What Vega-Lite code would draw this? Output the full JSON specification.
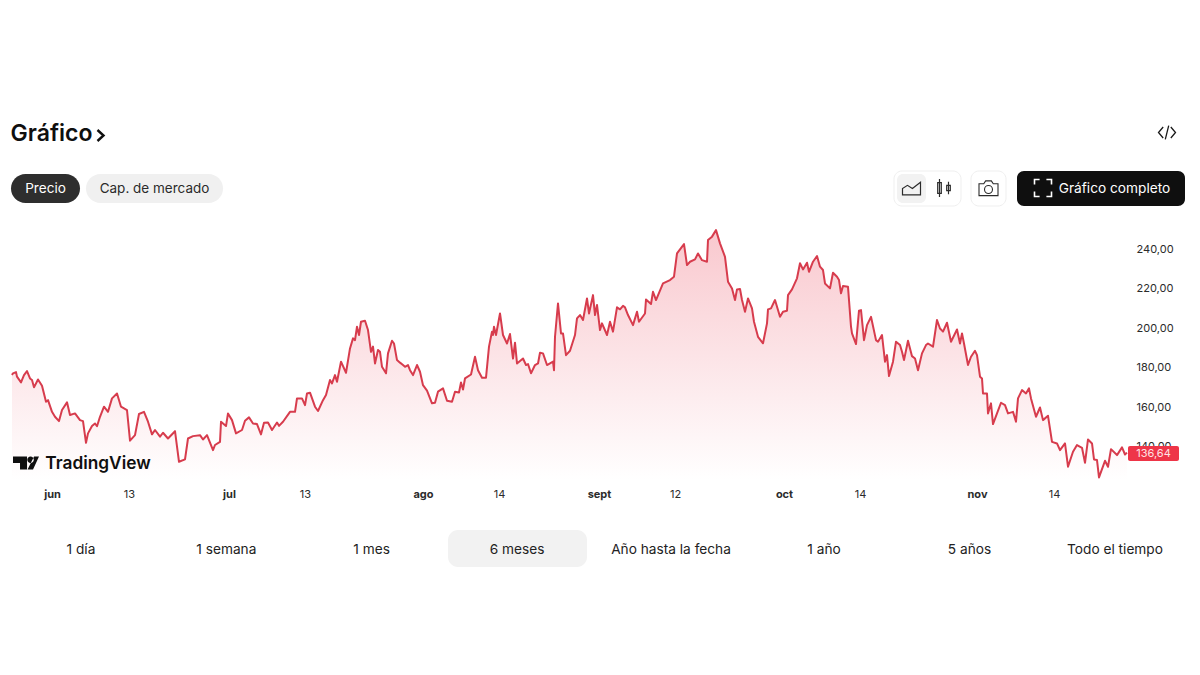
{"$schema":"https://vega.github.io/schema/vega-lite/v6.json","width":1200,"height":675,"autosize":{"type":"fit","contains":"padding"},"padding":0,"background":"#ffffff","config":{"font":"Inter","view":{"stroke":null},"text":{"font":"Inter"}},
"datasets":{"precio":[
{"bar":1,"price":175.9},{"bar":2,"price":176.8},{"bar":5,"price":177.4},{"bar":6,"price":175.1},{"bar":10,"price":172.2},{"bar":13,"price":175.9},{"bar":16,"price":177.9},{"bar":19,"price":174.2},{"bar":21,"price":173.4},{"bar":23,"price":169.7},{"bar":27,"price":173.7},{"bar":31,"price":170.5},{"bar":35,"price":162.4},{"bar":37,"price":163.2},{"bar":41,"price":157.3},{"bar":44,"price":154.8},{"bar":48,"price":152.6},{"bar":51,"price":158.2},{"bar":56,"price":162.1},{"bar":59,"price":155.7},{"bar":64,"price":156.5},{"bar":69,"price":153.1},{"bar":72,"price":152.6},{"bar":75,"price":141.6},{"bar":77,"price":146.4},{"bar":81,"price":150.1},{"bar":84,"price":151.4},{"bar":86,"price":150},{"bar":89,"price":154.8},{"bar":93,"price":159.9},{"bar":97,"price":157.3},{"bar":101,"price":164.1},{"bar":106,"price":166.6},{"bar":110,"price":159.9},{"bar":116,"price":158.2},{"bar":119,"price":142.7},{"bar":124,"price":145.5},{"bar":128,"price":156.2},{"bar":133,"price":157.3},{"bar":137,"price":152.3},{"bar":141,"price":145.9},{"bar":144,"price":148.1},{"bar":149,"price":144.7},{"bar":152,"price":146.7},{"bar":157,"price":143.8},{"bar":164,"price":147.5},{"bar":168,"price":132},{"bar":174,"price":133.2},{"bar":177,"price":143.8},{"bar":182,"price":145},{"bar":189,"price":145.5},{"bar":192,"price":143.3},{"bar":196,"price":145.5},{"bar":202,"price":137.9},{"bar":204,"price":140.5},{"bar":209,"price":142.1},{"bar":210,"price":152.3},{"bar":215,"price":150.1},{"bar":217,"price":156.5},{"bar":221,"price":153.1},{"bar":225,"price":146.4},{"bar":231,"price":148.1},{"bar":234,"price":152.8},{"bar":238,"price":154.5},{"bar":242,"price":151.4},{"bar":246,"price":151.1},{"bar":250,"price":145.9},{"bar":253,"price":151.8},{"bar":257,"price":151.9},{"bar":261,"price":148.1},{"bar":266,"price":151.9},{"bar":268,"price":150.2},{"bar":272,"price":152.3},{"bar":279,"price":157.3},{"bar":284,"price":157.3},{"bar":286,"price":164.1},{"bar":291,"price":164.1},{"bar":294,"price":160.7},{"bar":296,"price":166.6},{"bar":299,"price":167},{"bar":304,"price":159.9},{"bar":307,"price":157.7},{"bar":312,"price":163.2},{"bar":315,"price":165.8},{"bar":319,"price":173.4},{"bar":321,"price":171.7},{"bar":324,"price":175.9},{"bar":326,"price":172.5},{"bar":330,"price":182.7},{"bar":335,"price":177.1},{"bar":339,"price":189.4},{"bar":342,"price":194.5},{"bar":344,"price":193.6},{"bar":346,"price":200.4},{"bar":348,"price":196.2},{"bar":350,"price":202.9},{"bar":354,"price":203.4},{"bar":357,"price":198.7},{"bar":360,"price":187.7},{"bar":362,"price":190.3},{"bar":364,"price":181.8},{"bar":367,"price":188.6},{"bar":369,"price":187.7},{"bar":371,"price":180.1},{"bar":375,"price":176.8},{"bar":377,"price":186.9},{"bar":381,"price":193.3},{"bar":383,"price":191.9},{"bar":386,"price":183.5},{"bar":389,"price":182.2},
{"bar":392,"price":181},{"bar":394,"price":180.1},{"bar":397,"price":181},{"bar":399,"price":178.4},{"bar":402,"price":175.9},{"bar":406,"price":181},{"bar":409,"price":177.6},{"bar":412,"price":170.8},{"bar":416,"price":168},{"bar":421,"price":161.6},{"bar":424,"price":161.9},{"bar":427,"price":167.5},{"bar":432,"price":169.2},{"bar":436,"price":162.9},{"bar":441,"price":162.4},{"bar":444,"price":167.5},{"bar":448,"price":167.1},{"bar":450,"price":172.2},{"bar":452,"price":168.6},{"bar":454,"price":174.2},{"bar":460,"price":176.2},{"bar":464,"price":185.2},{"bar":467,"price":178.4},{"bar":471,"price":174.6},{"bar":475,"price":174.6},{"bar":478,"price":190.3},{"bar":481,"price":197.9},{"bar":482,"price":196.2},{"bar":483,"price":200.4},{"bar":485,"price":196.2},{"bar":489,"price":207.1},{"bar":492,"price":196.2},{"bar":496,"price":191.9},{"bar":499,"price":196.7},{"bar":502,"price":184.3},{"bar":504,"price":192.3},{"bar":506,"price":181.8},{"bar":512,"price":184.3},{"bar":515,"price":181},{"bar":517,"price":181.5},{"bar":520,"price":176.8},{"bar":524,"price":181},{"bar":527,"price":181.8},{"bar":529,"price":187.2},{"bar":532,"price":186.9},{"bar":536,"price":181},{"bar":542,"price":182.7},{"bar":543,"price":178.4},{"bar":544,"price":195.3},{"bar":547,"price":212.2},{"bar":550,"price":197},{"bar":552,"price":197},{"bar":555,"price":186},{"bar":559,"price":188.2},{"bar":564,"price":196.2},{"bar":566,"price":204.6},{"bar":569,"price":206.3},{"bar":572,"price":203.8},{"bar":576,"price":214.7},{"bar":578,"price":207.1},{"bar":582,"price":216.4},{"bar":584,"price":206.3},{"bar":586,"price":211.4},{"bar":589,"price":198.7},{"bar":591,"price":202.1},{"bar":596,"price":196.2},{"bar":599,"price":202.9},{"bar":602,"price":197.9},{"bar":606,"price":210.2},{"bar":609,"price":209.2},{"bar":612,"price":211},{"bar":614,"price":210.2},{"bar":617,"price":206.3},{"bar":622,"price":201.2},{"bar":626,"price":208},{"bar":628,"price":202.9},{"bar":634,"price":207.1},{"bar":635,"price":214.2},{"bar":640,"price":211.9},{"bar":642,"price":218.1},{"bar":645,"price":213.9},{"bar":652,"price":222.3},{"bar":659,"price":224},{"bar":663,"price":225.7},{"bar":666,"price":237.5},{"bar":673,"price":242.2},{"bar":676,"price":231.6},{"bar":679,"price":233.3},{"bar":684,"price":234.5},{"bar":687,"price":237.5},{"bar":691,"price":234.1},{"bar":696,"price":233.3},{"bar":697,"price":244.3},{"bar":701,"price":246},{"bar":705,"price":249.3},{"bar":709,"price":242.6},{"bar":714,"price":235.8},{"bar":717,"price":223.2},{"bar":721,"price":219.8},{"bar":724,"price":213.9},{"bar":726,"price":219.3},{"bar":729,"price":219.5},{"bar":731,"price":213.9},{"bar":734,"price":208},{"bar":737,"price":214.7},{"bar":741,"price":209.7},{"bar":743,"price":202.9},{"bar":747,"price":195.3},{"bar":752,"price":192},{"bar":756,"price":202.1},{"bar":757,"price":209.2},{"bar":760,"price":209.7},{"bar":764,"price":213.9},{"bar":769,"price":205.4},{"bar":772,"price":208},{"bar":776,"price":208.5},{"bar":777,"price":216.4},{"bar":781,"price":219.3},{"bar":786,"price":224.9},{"bar":789,"price":232.5},
{"bar":792,"price":229.4},{"bar":796,"price":232.8},{"bar":798,"price":228.2},{"bar":802,"price":233.3},{"bar":806,"price":236.2},{"bar":809,"price":230.8},{"bar":812,"price":229.1},{"bar":814,"price":222.3},{"bar":819,"price":219.8},{"bar":822,"price":227.7},{"bar":826,"price":225.7},{"bar":828,"price":224},{"bar":830,"price":217.3},{"bar":832,"price":221},{"bar":837,"price":220.6},{"bar":840,"price":200.4},{"bar":841,"price":197},{"bar":845,"price":191.6},{"bar":848,"price":208.5},{"bar":850,"price":208.8},{"bar":853,"price":193.6},{"bar":856,"price":201.2},{"bar":860,"price":205.4},{"bar":865,"price":193.6},{"bar":867,"price":192.8},{"bar":871,"price":196.2},{"bar":874,"price":182.7},{"bar":876,"price":186},{"bar":878,"price":175.4},{"bar":882,"price":182.7},{"bar":885,"price":192.8},{"bar":889,"price":191.1},{"bar":891,"price":187.7},{"bar":893,"price":183.5},{"bar":897,"price":193.3},{"bar":901,"price":185.5},{"bar":904,"price":184.3},{"bar":907,"price":178.4},{"bar":911,"price":186.9},{"bar":915,"price":191.1},{"bar":917,"price":191.9},{"bar":922,"price":190.3},{"bar":926,"price":203.8},{"bar":929,"price":199.5},{"bar":932,"price":197.9},{"bar":936,"price":202.4},{"bar":940,"price":192.8},{"bar":946,"price":199},{"bar":949,"price":191.9},{"bar":951,"price":197},{"bar":953,"price":191.9},{"bar":957,"price":181},{"bar":960,"price":185.2},{"bar":964,"price":188.2},{"bar":966,"price":186},{"bar":969,"price":175.1},{"bar":971,"price":174.2},{"bar":972,"price":166.6},{"bar":976,"price":166.6},{"bar":977,"price":156.5},{"bar":980,"price":161.6},{"bar":982,"price":151.1},{"bar":986,"price":156.5},{"bar":990,"price":161.9},{"bar":994,"price":160.7},{"bar":997,"price":156.5},{"bar":1002,"price":157.3},{"bar":1005,"price":152.3},{"bar":1007,"price":164.1},{"bar":1011,"price":168.3},{"bar":1015,"price":166.6},{"bar":1018,"price":169.2},{"bar":1020,"price":164.1},{"bar":1025,"price":154.8},{"bar":1029,"price":159.5},{"bar":1032,"price":153.1},{"bar":1037,"price":155.3},{"bar":1041,"price":142.1},{"bar":1046,"price":141.3},{"bar":1049,"price":137.9},{"bar":1054,"price":141.3},{"bar":1057,"price":129.5},{"bar":1062,"price":137.1},{"bar":1066,"price":140.5},{"bar":1071,"price":139.1},{"bar":1074,"price":131.5},{"bar":1077,"price":143.3},{"bar":1081,"price":141.3},{"bar":1083,"price":133.2},{"bar":1086,"price":132.9},{"bar":1088,"price":124.1},{"bar":1094,"price":132.5},{"bar":1097,"price":129.5},{"bar":1100,"price":138.4},{"bar":1106,"price":135.4},{"bar":1111,"price":139.3},{"bar":1114,"price":135.7},{"bar":1116,"price":136.64}
]},
"resolve":{"scale":{"x":"independent","y":"independent"},"axis":{"x":"independent","y":"independent"}},
"layer":[
{"data":{"name":"precio"},
 "encoding":{
  "x":{"field":"bar","type":"quantitative","title":null,"scale":{"domain":[-11,1189],"nice":false,"zero":false},
   "axis":{"orient":"bottom","offset":-187,"domain":false,"ticks":false,"grid":false,"labelPadding":0,"labelFontSize":11,"labelColor":"#2b2b2b","labelFont":"Inter","labelOverlap":false,"labelFlush":false,"labelBound":false,
    "values":[41,118,218,294,412,488,588,664,773,849,966,1043],
    "labelExpr":"{41:'jun',118:'13',218:'jul',294:'13',412:'ago',488:'14',588:'sept',664:'12',773:'oct',849:'14',966:'nov',1043:'14'}[datum.value]",
    "labelFontWeight":{"condition":{"test":"indexof([41,218,412,588,773,966],datum.value)>=0","value":700},"value":400}}},
  "y":{"field":"price","type":"quantitative","title":null,"scale":{"domain":[24.05,365.82],"nice":false,"zero":false},
   "axis":{"orient":"right","offset":-64,"domain":false,"ticks":false,"grid":false,"labelPadding":0,"labelOffset":1,"labelFontSize":11,"labelColor":"#2b2b2b","labelFont":"Inter","labelOverlap":false,"labelFlush":false,"labelBound":false,
    "values":[140,160,180,200,220,240],"labelExpr":"replace(format(datum.value,'.2f'),'.',',')"}}},
 "layer":[
  {"mark":{"type":"area","line":false,"color":{"gradient":"linear","x1":0,"y1":0,"x2":0,"y2":1,"stops":[{"offset":0,"color":"#f9c8ce"},{"offset":1,"color":"#ffffff"}]}},"encoding":{"y2":{"datum":122.8}}},
  {"mark":{"type":"line","color":"#d73c4d","strokeWidth":2,"strokeJoin":"round"}}
 ]},
{"data":{"values":[{"control":"Gráfico"}]},"mark":{"type":"text","fontSize":23,"fontWeight":600,"color":"#0f0f0f"},"encoding":{"text":{"field":"control"},"x":{"field":"control","type":"nominal","axis":null,"scale":{"type":"band","padding":0,"range":[11,92]}},"y":{"field":"control","type":"nominal","axis":null,"scale":{"type":"band","padding":0,"range":[119,149]}}}},
{"data":{"values":[{"control":"siguiente"}]},"mark":{"type":"point","filled":false,"opacity":1,"stroke":"#0f0f0f","strokeWidth":2.4,"size":121,"shape":"M-0.55,-1L0.55,0L-0.55,1"},"encoding":{"x":{"field":"control","type":"nominal","axis":null,"scale":{"type":"band","padding":0,"range":[90,111]}},"y":{"field":"control","type":"nominal","axis":null,"scale":{"type":"band","padding":0,"range":[125,146]}}}},
{"data":{"values":[{"control":"insertar"}]},"mark":{"type":"point","filled":false,"opacity":1,"stroke":"#1a1a1a","strokeWidth":1.3,"size":289,"shape":"M-0.45,-0.65L-1,0L-0.45,0.65M0.45,-0.65L1,0L0.45,0.65M0.2,-0.8L-0.2,0.8"},"encoding":{"x":{"field":"control","type":"nominal","axis":null,"scale":{"type":"band","padding":0,"range":[1157,1177]}},"y":{"field":"control","type":"nominal","axis":null,"scale":{"type":"band","padding":0,"range":[122,143]}}}},
{"data":{"values":[{"control":"Precio"}]},"encoding":{"x":{"field":"control","type":"nominal","axis":null,"scale":{"type":"band","padding":0,"range":[11,80]}},"y":{"field":"control","type":"nominal","axis":null,"scale":{"type":"band","padding":0,"range":[174,203]}}},"layer":[{"mark":{"type":"rect","cornerRadius":14.5,"color":"#2e2e2e"}},{"mark":{"type":"text","fontSize":13.6,"color":"#ffffff"},"encoding":{"text":{"field":"control"}}}]},
{"data":{"values":[{"control":"Cap. de mercado"}]},"encoding":{"x":{"field":"control","type":"nominal","axis":null,"scale":{"type":"band","padding":0,"range":[86,223]}},"y":{"field":"control","type":"nominal","axis":null,"scale":{"type":"band","padding":0,"range":[174,203]}}},"layer":[{"mark":{"type":"rect","cornerRadius":14.5,"color":"#f0f0f0"}},{"mark":{"type":"text","fontSize":13.5,"color":"#2b2b2b"},"encoding":{"text":{"field":"control"}}}]},
{"data":{"values":[{"control":"tipo de gráfico"}]},"mark":{"type":"rect","cornerRadius":8,"fill":"#ffffff","stroke":"#efefef"},"encoding":{"x":{"field":"control","type":"nominal","axis":null,"scale":{"type":"band","padding":0,"range":[894,961]}},"y":{"field":"control","type":"nominal","axis":null,"scale":{"type":"band","padding":0,"range":[171,206]}}}},
{"data":{"values":[{"control":"área"}]},"encoding":{"x":{"field":"control","type":"nominal","axis":null,"scale":{"type":"band","padding":0,"range":[897,926]}},"y":{"field":"control","type":"nominal","axis":null,"scale":{"type":"band","padding":0,"range":[174,203]}}},"layer":[{"mark":{"type":"rect","cornerRadius":6,"color":"#f2f2f2"}},{"mark":{"type":"point","filled":false,"opacity":1,"stroke":"#2b2b2b","strokeWidth":1.2,"size":324,"shape":"M-1,0.7V0L-0.45,-0.35L0.1,0L1,-0.7V0.7Z"}}]},
{"data":{"values":[{"control":"velas"}]},"mark":{"type":"point","filled":false,"opacity":1,"stroke":"#2b2b2b","strokeWidth":1.2,"size":324,"shape":"M-0.5,-1V1M-0.7,-0.6H-0.3V0.6H-0.7ZM0.5,-0.7V0.7M0.3,-0.3H0.7V0.3H0.3Z"},"encoding":{"x":{"field":"control","type":"nominal","axis":null,"scale":{"type":"band","padding":0,"range":[934,954]}},"y":{"field":"control","type":"nominal","axis":null,"scale":{"type":"band","padding":0,"range":[178,198]}}}},
{"data":{"values":[{"control":"captura"}]},"encoding":{"x":{"field":"control","type":"nominal","axis":null,"scale":{"type":"band","padding":0,"range":[971,1006]}},"y":{"field":"control","type":"nominal","axis":null,"scale":{"type":"band","padding":0,"range":[171,206]}}},"layer":[{"mark":{"type":"rect","cornerRadius":8,"fill":"#ffffff","stroke":"#efefef"}},{"mark":{"type":"point","filled":false,"opacity":1,"stroke":"#2b2b2b","strokeWidth":1.1,"size":361,"shape":"M-1,-0.5H-0.5L-0.3,-0.8H0.3L0.5,-0.5H1V0.75H-1ZM-0.42,0.1A0.42,0.42 0 1 0 0.42,0.1A0.42,0.42 0 1 0 -0.42,0.1Z"}}]},
{"data":{"values":[{"control":"completo"}]},"mark":{"type":"rect","cornerRadius":7,"color":"#0f0f0f"},"encoding":{"x":{"field":"control","type":"nominal","axis":null,"scale":{"type":"band","padding":0,"range":[1017,1185]}},"y":{"field":"control","type":"nominal","axis":null,"scale":{"type":"band","padding":0,"range":[171,206]}}}},
{"data":{"values":[{"control":"Gráfico completo"}]},"mark":{"type":"text","fontSize":13.7,"color":"#ffffff"},"encoding":{"text":{"field":"control"},"x":{"field":"control","type":"nominal","axis":null,"scale":{"type":"band","padding":0,"range":[1054,1175]}},"y":{"field":"control","type":"nominal","axis":null,"scale":{"type":"band","padding":0,"range":[174,203]}}}},
{"data":{"values":[{"control":"pantalla"}]},"mark":{"type":"point","filled":false,"opacity":1,"stroke":"#ffffff","strokeWidth":1.6,"size":289,"shape":"M-1,-0.4V-1H-0.4M0.4,-1H1V-0.4M1,0.4V1H0.4M-0.4,1H-1V0.4"},"encoding":{"x":{"field":"control","type":"nominal","axis":null,"scale":{"type":"band","padding":0,"range":[1033,1053]}},"y":{"field":"control","type":"nominal","axis":null,"scale":{"type":"band","padding":0,"range":[178,198]}}}},
{"data":{"values":[{"control":"logo"}]},"mark":{"type":"point","filled":true,"opacity":1,"color":"#0f0f0f","size":676,"shape":"M-1,-0.5H0.08V0.5H-0.46V0H-1ZM0.1,-0.25A0.25,0.25 0 1 0 0.6,-0.25A0.25,0.25 0 1 0 0.1,-0.25ZM0.62,-0.5H1L0.54,0.5H0.12Z"},"encoding":{"x":{"field":"control","type":"nominal","axis":null,"scale":{"type":"band","padding":0,"range":[16,36]}},"y":{"field":"control","type":"nominal","axis":null,"scale":{"type":"band","padding":0,"range":[453,473]}}}},
{"data":{"values":[{"control":"TradingView"}]},"mark":{"type":"text","fontSize":17.3,"fontWeight":600,"color":"#0f0f0f"},"encoding":{"text":{"field":"control"},"x":{"field":"control","type":"nominal","axis":null,"scale":{"type":"band","padding":0,"range":[45,151]}},"y":{"field":"control","type":"nominal","axis":null,"scale":{"type":"band","padding":0,"range":[454,474]}}}},
{"data":{"values":[{"control":"136,64"}]},"encoding":{"x":{"field":"control","type":"nominal","axis":null,"scale":{"type":"band","padding":0,"range":[1128,1179]}},"y":{"field":"control","type":"nominal","axis":null,"scale":{"type":"band","padding":0,"range":[446,461]}}},"layer":[{"mark":{"type":"rect","cornerRadius":2,"color":"#ee3548"}},{"mark":{"type":"text","fontSize":11,"color":"#ffe3e5"},"encoding":{"text":{"field":"control"}}}]},
{"data":{"values":[{"control":"6 meses"}]},"mark":{"type":"rect","cornerRadius":10,"color":"#f2f2f2"},"encoding":{"x":{"field":"control","type":"nominal","axis":null,"scale":{"type":"band","padding":0,"range":[448,587]}},"y":{"field":"control","type":"nominal","axis":null,"scale":{"type":"band","padding":0,"range":[530,567]}}}},
{"data":{"values":[{"control":"1 día","fila":"intervalo"},{"control":"1 semana","fila":"intervalo"},{"control":"1 mes","fila":"intervalo"},{"control":"6 meses","fila":"intervalo"}]},"mark":{"type":"text","fontSize":13.7,"color":"#222222"},"encoding":{"text":{"field":"control"},"x":{"field":"control","type":"nominal","sort":null,"axis":null,"scale":{"type":"band","padding":0,"range":[8.3,589.7]}},"y":{"field":"fila","type":"nominal","axis":null,"scale":{"type":"band","padding":0,"range":[531,568]}}}},
{"data":{"values":[{"control":"Año hasta la fecha","fila":"intervalo"}]},"mark":{"type":"text","fontSize":13.7,"color":"#222222"},"encoding":{"text":{"field":"control"},"x":{"field":"control","type":"nominal","axis":null,"scale":{"type":"band","padding":0,"range":[597,745]}},"y":{"field":"fila","type":"nominal","axis":null,"scale":{"type":"band","padding":0,"range":[531,568]}}}},
{"data":{"values":[{"control":"1 año","fila":"intervalo"},{"control":"5 años","fila":"intervalo"},{"control":"Todo el tiempo","fila":"intervalo"}]},"mark":{"type":"text","fontSize":13.7,"color":"#222222"},"encoding":{"text":{"field":"control"},"x":{"field":"control","type":"nominal","sort":null,"axis":null,"scale":{"type":"band","padding":0,"range":[751.25,1187.75]}},"y":{"field":"fila","type":"nominal","axis":null,"scale":{"type":"band","padding":0,"range":[531,568]}}}}
]}
